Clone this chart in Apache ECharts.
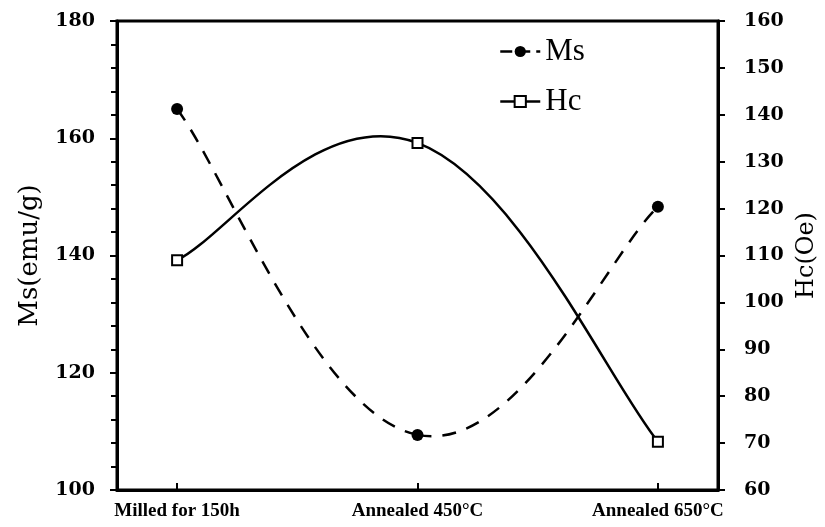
<!DOCTYPE html>
<html>
<head>
<meta charset="utf-8">
<script src="https://cdn.jsdelivr.net/npm/echarts@6/dist/echarts.min.js"></script>
<style>html,body{margin:0;padding:0;background:#fff;}#c{width:825px;height:527px;}</style>
</head>
<body>
<div id="c"></div>
<script>
var categories = ['Milled for 150h', 'Annealed 450°C', 'Annealed 650°C'];
var msValues = [165.0, 109.4, 148.3];
var hcValues = [109.0, 134.0, 70.3];
var leftTicks = [100, 120, 140, 160, 180];
var rightTicks = [60, 70, 80, 90, 100, 110, 120, 130, 140, 150, 160];

var catIdx = categories.map(function (c, i) { return i; });
function pairs(vals) { return vals.map(function (v, i) { return [catIdx[i], v]; }); }

// Smooth (Catmull-Rom style) curve through the data points, positioned by the axes via api.coord
function curveRenderer(vals, dash) {
  var tension = 1.25;
  return function (params, api) {
    var i = params.dataIndex;
    var n = vals.length;
    if (i >= n - 1) return null;
    function P(j) { j = Math.max(0, Math.min(n - 1, j)); return api.coord([catIdx[j], vals[j]]); }
    var p0 = P(i - 1), p1 = P(i), p2 = P(i + 1), p3 = P(i + 2);
    var k = tension / 6;
    return {
      type: 'bezierCurve',
      shape: {
        x1: p1[0], y1: p1[1], x2: p2[0], y2: p2[1],
        cpx1: p1[0] + (p2[0] - p0[0]) * k, cpy1: p1[1] + (p2[1] - p0[1]) * k,
        cpx2: p2[0] - (p3[0] - p1[0]) * k, cpy2: p2[1] - (p3[1] - p1[1]) * k
      },
      style: {stroke: '#000', lineWidth: 2.5, fill: null, lineDash: dash}
    };
  };
}

var chart = echarts.init(document.getElementById('c'), null, {renderer: 'canvas'});
var tickFont = {color: '#000', fontFamily: 'DejaVu Serif', fontWeight: 'bold', fontSize: 19};
chart.setOption({
  animation: false,
  backgroundColor: '#fff',
  grid: {left: 117, right: 107, top: 21, bottom: 37, show: true, borderColor: '#000', borderWidth: 3,
    backgroundColor: 'transparent', outerBoundsMode: 'none', containLabel: false},
  legend: {
    orient: 'vertical', left: 494, top: 31, itemWidth: 40, itemHeight: 14, itemGap: 19,
    data: [
      {name: 'Ms', lineStyle: {color: '#000', width: 2.5, opacity: 1, type: [12, 6]}},
      {name: 'Hc', lineStyle: {color: '#000', width: 2.5, opacity: 1, type: 'solid'}}
    ],
    textStyle: {color: '#000', fontFamily: 'Liberation Serif', fontSize: 31}
  },
  xAxis: {
    type: 'value', min: -0.25, max: 2.25,
    axisLine: {onZero: false, lineStyle: {color: '#000', width: 3}},
    axisTick: {show: true, inside: true, length: 7, lineStyle: {color: '#000', width: 2}, customValues: catIdx},
    axisLabel: {customValues: catIdx, formatter: function (v) { return categories[Math.round(v)]; },
      color: '#000', fontFamily: 'Liberation Serif', fontWeight: 'bold', fontSize: 19, margin: 12},
    splitLine: {show: false}
  },
  yAxis: [{
    type: 'value', min: leftTicks[0], max: leftTicks[leftTicks.length - 1], interval: 20,
    name: 'Ms(emu/g)', nameLocation: 'middle', nameGap: 74, nameRotate: 90,
    nameTextStyle: {color: '#000', fontFamily: 'DejaVu Serif', fontSize: 26},
    axisLine: {show: true, onZero: false, lineStyle: {color: '#000', width: 3}},
    axisTick: {show: true, length: 7, lineStyle: {color: '#000', width: 2}},
    minorTick: {show: true, splitNumber: 5, length: 6, lineStyle: {color: '#000', width: 2}},
    axisLabel: Object.assign({margin: 22}, tickFont),
    splitLine: {show: false}
  }, {
    type: 'value', min: rightTicks[0], max: rightTicks[rightTicks.length - 1], interval: 10,
    position: 'right',
    name: 'Hc(Oe)', nameLocation: 'middle', nameGap: 74, nameRotate: 90,
    nameTextStyle: {color: '#000', fontFamily: 'DejaVu Serif', fontSize: 24},
    axisLine: {show: true, onZero: false, lineStyle: {color: '#000', width: 3}},
    axisTick: {show: true, length: 7, lineStyle: {color: '#000', width: 2}},
    axisLabel: Object.assign({margin: 26}, tickFont),
    splitLine: {show: false}
  }],
  series: [{
    name: 'Ms curve', type: 'custom', yAxisIndex: 0, data: pairs(msValues), z: 1,
    renderItem: curveRenderer(msValues, [14, 11])
  }, {
    name: 'Hc curve', type: 'custom', yAxisIndex: 1, data: pairs(hcValues), z: 1,
    renderItem: curveRenderer(hcValues, null)
  }, {
    name: 'Ms', type: 'line', yAxisIndex: 0, data: pairs(msValues), z: 3,
    symbol: 'circle', symbolSize: 12,
    itemStyle: {color: '#000'},
    lineStyle: {color: '#000', width: 0, opacity: 0}
  }, {
    name: 'Hc', type: 'line', yAxisIndex: 1, data: pairs(hcValues), z: 3,
    symbol: 'rect', symbolSize: 10,
    itemStyle: {color: '#fff', borderColor: '#000', borderWidth: 2},
    lineStyle: {color: '#000', width: 0, opacity: 0}
  }]
});
</script>
</body>
</html>
